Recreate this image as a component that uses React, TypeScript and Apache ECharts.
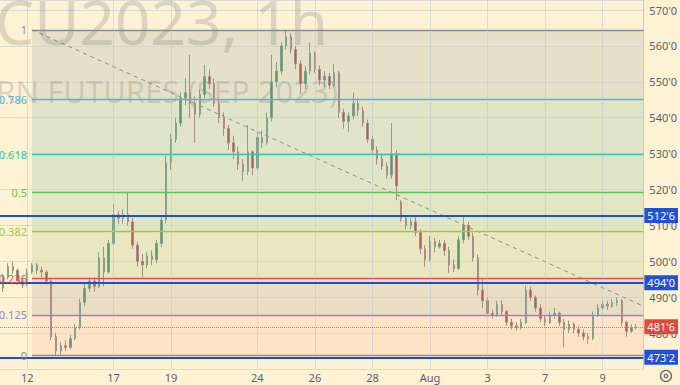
import React, { useEffect, useRef } from 'react';
import * as echarts from 'echarts';

// ---- data ----
const dayLabels = ['11','12','13','14','17','18','19','20','21','24','25','26','27','28','31','Aug','2','3','4','7','8','9','10'];
const shownDays = ['12','17','19','24','26','28','Aug','3','7','9'];
const barsPerDay = 6;
const slotMin = 0.33;
const slotMax = 134.5;

const opens = [
491.0,492.5,495.5,498.5,497.5,494.5,493.5,497.0,499.0,497.5,
497.0,494.5,479.0,475.0,476.5,476.0,478.5,481.5,488.5,492.5,
494.5,493.0,501.0,497.0,505.0,513.0,512.0,513.0,511.0,504.5,
500.0,499.0,501.5,500.5,505.0,511.5,527.5,534.0,538.5,545.5,
547.0,544.0,541.0,546.5,551.5,549.5,544.0,540.0,537.0,533.0,
530.5,527.0,525.0,530.5,526.0,534.5,533.0,540.0,550.0,553.0,
560.0,562.5,559.0,555.0,549.5,553.0,558.0,553.5,550.5,551.5,
549.0,552.5,541.5,539.0,540.5,544.0,542.0,538.5,534.0,531.0,
528.5,526.5,524.0,530.0,516.5,512.0,510.0,511.0,508.0,503.5,
500.5,505.5,504.0,505.0,503.0,499.0,498.0,506.0,510.0,507.0,
501.0,492.0,489.0,485.5,485.0,488.0,486.0,483.0,482.0,481.5,
483.0,492.0,490.0,487.0,484.0,483.0,485.0,485.5,483.0,481.0,
482.5,481.0,480.0,479.0,478.5,485.0,487.0,488.0,487.5,488.5,
489.0,483.0,480.5,481.5
];
const closes = [
492.5,495.5,498.5,497.5,494.5,493.5,497.0,499.0,497.5,497.0,
494.5,479.0,475.0,476.5,476.0,478.5,481.5,488.5,492.5,494.5,
493.0,501.0,497.0,505.0,513.0,512.0,513.0,511.0,504.5,500.0,
499.0,501.5,500.5,505.0,511.5,527.5,534.0,538.5,545.5,547.0,
544.0,541.0,546.5,551.5,549.5,544.0,540.0,537.0,533.0,530.5,
527.0,525.0,530.5,526.0,534.5,533.0,540.0,550.0,553.0,560.0,
562.5,559.0,555.0,549.5,553.0,558.0,553.5,550.5,551.5,549.0,
552.5,541.5,539.0,540.5,544.0,542.0,538.5,534.0,531.0,528.5,
526.5,524.0,530.0,521.0,512.0,510.0,511.0,508.0,503.5,500.5,
505.5,504.0,505.0,503.0,499.0,498.0,506.0,510.0,507.0,501.0,
492.0,489.0,485.5,485.0,488.0,486.0,483.0,482.0,481.5,483.0,
492.0,490.0,487.0,484.0,483.0,485.0,485.5,483.0,481.0,482.5,
481.0,480.0,479.0,478.5,485.0,487.0,488.0,487.5,488.5,489.0,
483.0,480.5,481.5,481.75
];
const highs = [
493.5,496.5,499.5,500.0,498.0,496.0,498.0,499.5,499.5,498.5,
497.5,495.0,480.0,477.5,478.0,479.5,482.5,489.5,494.0,495.5,
495.5,502.5,504.0,506.0,516.0,514.0,514.5,519.25,512.0,505.5,
502.0,502.5,503.0,506.0,512.5,529.5,535.5,540.0,547.0,551.0,
557.5,546.0,548.0,554.75,553.5,551.0,545.0,541.5,538.0,535.0,
532.0,528.5,538.0,531.0,536.0,536.5,541.5,557.5,555.5,561.0,
564.5,563.5,560.0,556.0,554.5,561.0,558.5,554.5,553.0,552.5,
555.0,553.0,542.5,541.5,547.0,545.5,543.0,539.5,535.0,532.0,
530.0,527.5,538.5,531.0,517.0,512.75,512.0,512.5,509.0,504.5,
507.0,506.5,506.0,506.0,504.0,500.5,507.0,512.25,511.0,508.0,
502.0,495.0,490.0,486.5,489.0,489.0,486.5,484.0,483.0,484.0,
493.25,493.0,490.5,488.0,485.0,486.0,487.0,486.0,484.0,483.5,
483.0,482.0,481.0,480.0,486.0,488.0,489.0,489.0,489.5,490.0,
489.5,483.5,482.5,482.5
];
const lows = [
490.0,491.5,495.0,496.5,493.5,492.5,493.0,496.5,496.5,495.5,
494.0,478.0,473.75,474.0,475.0,475.5,478.0,481.0,487.5,491.5,
491.5,492.5,493.0,496.5,504.5,510.5,510.5,510.0,503.5,498.5,
495.5,498.0,499.0,499.5,504.0,510.5,525.5,533.0,537.5,543.5,
540.0,533.0,540.0,545.5,548.0,543.0,538.5,535.0,531.0,528.5,
525.5,522.5,524.0,524.0,525.5,531.5,532.5,539.0,548.5,552.0,
559.0,558.0,553.5,546.5,548.0,552.0,552.5,549.0,548.5,548.0,
548.5,540.0,537.0,536.0,539.5,540.5,537.5,533.0,530.0,527.0,
525.5,523.0,523.0,517.0,511.0,509.0,509.0,507.0,502.0,498.5,
500.0,502.5,503.5,501.5,496.75,497.0,497.5,505.0,506.0,500.0,
490.5,487.0,484.5,484.0,484.5,485.0,482.0,481.0,480.75,481.0,
482.5,489.0,486.0,483.0,482.0,482.5,484.0,482.0,476.0,480.0,
480.0,479.0,478.0,477.0,478.0,484.5,486.5,486.5,487.0,487.5,
482.0,479.0,480.0,481.0
];

const yMin = 470;
const yMax = 572.8;
const yStep = 10;

const fibRatios = [1, 0.786, 0.618, 0.5, 0.382, 0.236, 0.125, 0];
const fibLow = 473.75;
const fibHigh = 564.5;
const fibStartSlot = 7;
const trendEndPrice = 487.5;
const userLines = [512.75, 494.0, 473.25];
const lastPrice = 481.75;

// ---- styles ----
const fibColors = ['#8a8d95', '#5aaee0', '#35c9a3', '#5cc35a', '#a8c63e', '#e8504a', '#9a80d2', '#8a8d95'];
const fibFills = [
  'rgba(203,207,188,0.5)',
  'rgba(195,213,190,0.5)',
  'rgba(193,215,184,0.5)',
  'rgba(199,217,180,0.5)',
  'rgba(211,219,176,0.5)',
  'rgba(213,199,184,0.5)',
  'rgba(253,213,184,0.5)',
];
const bg = '#fdf3d4';
const gridColor = 'rgba(180,192,215,0.45)';
const blue = '#1f4fcf';

function fmtPrice(v: number): string {
  const whole = Math.floor(v);
  const eighths = Math.round((v - whole) * 8);
  return `${whole}'${eighths}`;
}

export default function App() {
  const ref = useRef<HTMLDivElement>(null);

  useEffect(() => {
    if (!ref.current) return;
    const chart = echarts.init(ref.current, undefined, { renderer: 'svg' });

    const candleData = opens.map((o, i) => [i, o, closes[i], lows[i], highs[i]]);
    const levels = fibRatios.map((r) => fibLow + r * (fibHigh - fibLow));

    const dayMarks: any[] = [];
    dayLabels.forEach((d, k) => {
      if (shownDays.includes(d)) {
        dayMarks.push({ xAxis: k * barsPerDay, label: { formatter: d } });
      }
    });

    const option: any = {
      animation: false,
      backgroundColor: bg,
      textStyle: { fontFamily: 'Noto Sans, sans-serif' },
      grid: { left: 0, right: 32, top: 0, bottom: 16, containLabel: false },
      xAxis: { type: 'value', min: slotMin, max: slotMax, show: false },
      yAxis: {
        type: 'value',
        position: 'right',
        min: yMin,
        max: yMax,
        interval: yStep,
        axisLine: { show: true, lineStyle: { color: '#d2c9aa' } },
        axisTick: { show: false },
        axisLabel: {
          formatter: (v: number) => fmtPrice(v),
          showMinLabel: false,
          showMaxLabel: false,
          color: '#5d606b',
          fontSize: 11,
          margin: 6,
        },
        splitLine: { lineStyle: { color: gridColor, width: 1 } },
      },
      series: [
        {
          type: 'line',
          z: 1,
          data: [
            [fibStartSlot, fibHigh],
            [slotMax, trendEndPrice],
          ],
          symbol: 'none',
          silent: true,
          lineStyle: { color: '#8e8e8e', width: 1, type: [4, 4] },
          markArea: {
            silent: true,
            data: fibFills.map((c, i) => [
              { coord: [fibStartSlot, levels[i]], itemStyle: { color: c } },
              { coord: [slotMax, levels[i + 1]] },
            ]),
          },
          markLine: {
            silent: true,
            symbol: ['none', 'none'],
            label: { show: true, position: 'start', distance: 5, fontSize: 11 },
            data: [
              ...levels.map((lv, i) => [
                {
                  coord: [fibStartSlot, lv],
                  lineStyle: { color: fibColors[i], width: 1.3, type: 'solid' },
                  label: { formatter: String(fibRatios[i]), color: fibColors[i] },
                },
                { coord: [slotMax, lv] },
              ]),
              ...dayMarks.map((m) => ({
                xAxis: m.xAxis,
                lineStyle: { color: gridColor, width: 1, type: 'solid' },
                label: {
                  formatter: m.label.formatter,
                  position: 'start',
                  distance: 3,
                  color: '#5d606b',
                  fontSize: 11,
                },
              })),
            ],
          },
        },
        {
          type: 'candlestick',
          z: 3,
          data: candleData,
          barWidth: 2,
          itemStyle: {
            color: '#56996a',
            color0: '#b5594a',
            borderColor: '#84a38a',
            borderColor0: '#a98e85',
            borderWidth: 1,
          },
          markLine: {
            silent: true,
            symbol: ['none', 'none'],
            data: [
              ...userLines.map((v) => ({
                yAxis: v,
                lineStyle: { color: blue, width: 2, type: 'solid' },
                label: {
                  show: true,
                  position: 'end',
                  distance: 1,
                  formatter: fmtPrice(v),
                  backgroundColor: '#2150d6',
                  color: '#ffffff',
                  padding: [2, 3],
                  fontSize: 11,
                },
              })),
              {
                yAxis: lastPrice,
                lineStyle: { color: '#e46c5c', width: 1, type: 'dotted' },
                label: {
                  show: true,
                  position: 'end',
                  distance: 1,
                  formatter: fmtPrice(lastPrice),
                  backgroundColor: '#e0493e',
                  color: '#ffffff',
                  padding: [2, 3],
                  fontSize: 11,
                },
              },
            ],
          },
        },
      ],
      graphic: [
        {
          type: 'text',
          z: 2,
          x: 328,
          y: 21,
          silent: true,
          style: {
            text: 'ZCU2023, 1h',
            align: 'right',
            verticalAlign: 'middle',
            font: '62px "Noto Sans", sans-serif',
            fill: 'rgba(105,105,105,0.22)',
          },
        },
        {
          type: 'text',
          z: 2,
          x: 338,
          y: 91,
          silent: true,
          style: {
            text: 'CORN FUTURES (SEP 2023)',
            align: 'right',
            verticalAlign: 'middle',
            font: '31px "Noto Sans", sans-serif',
            fill: 'rgba(105,105,105,0.22)',
          },
        },
        {
          type: 'circle',
          z: 5,
          shape: { cx: 666, cy: 376, r: 5.5 },
          style: { fill: 'none', stroke: '#666', lineWidth: 1.3 },
        },
        {
          type: 'circle',
          z: 5,
          shape: { cx: 666, cy: 376, r: 1.8 },
          style: { fill: 'none', stroke: '#666', lineWidth: 1.2 },
        },
      ],
    };

    chart.setOption(option);
    return () => chart.dispose();
  }, []);

  return (
    <div
      ref={ref}
      style={{ position: 'fixed', left: 0, top: 0, width: 680, height: 385 }}
    />
  );
}
